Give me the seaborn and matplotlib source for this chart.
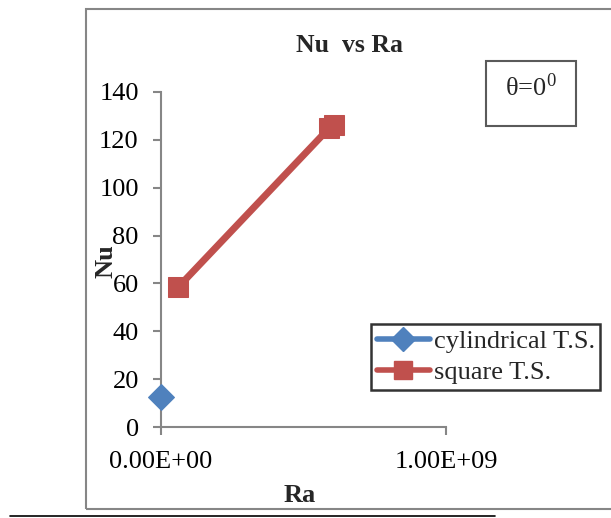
import matplotlib
matplotlib.use("Agg")
import matplotlib.pyplot as plt
import seaborn as sns
import pandas as pd
from matplotlib.patches import Rectangle
from matplotlib.lines import Line2D

# Данные
cyl_ra = [0.0]
cyl_nu = [12.5]
sq_ra = [6.0e7, 5.9e8, 6.07e8]
sq_nu = [58.4, 124.9, 126.3]
y_ticks = [0, 20, 40, 60, 80, 100, 120, 140]
x_ticks = [0.0, 1.0e9]
x_tick_labels = ["0.00E+00", "1.00E+09"]

sns.set_theme(style="white")
plt.rcParams['font.family'] = ['Liberation Serif', 'DejaVu Serif']
plt.rcParams['mathtext.fontset'] = 'stix'

blue = '#4F81BD'
red = '#C0504D'
grey = '#868686'

fig = plt.figure(figsize=(6.11, 5.18), dpi=100)
ax = fig.add_axes([161 / 611, 1 - 427 / 518, 285 / 611, 335 / 518])

df_cyl = pd.DataFrame({"Ra": cyl_ra, "Nu": cyl_nu})
df_sq = pd.DataFrame({"Ra": sq_ra, "Nu": sq_nu})

sns.lineplot(data=df_cyl, x="Ra", y="Nu", ax=ax, color=blue, linewidth=4,
             marker='D', markersize=13, markeredgecolor=blue, sort=False,
             clip_on=False, zorder=5)
sns.lineplot(data=df_sq, x="Ra", y="Nu", ax=ax, color=red, linewidth=5,
             marker='s', markersize=15, markeredgecolor=red, sort=False,
             clip_on=False, zorder=4)

ax.set_xlim(0, 1.0e9)
ax.set_ylim(0, 140)
ax.set_yticks(y_ticks)
ax.set_xticks(x_ticks)
ax.set_xticklabels(x_tick_labels)
ax.tick_params(axis='both', labelsize=19, colors='black', length=6,
               width=1.5, direction='out', left=True, bottom=True)
ax.tick_params(axis='both', color=grey)
ax.tick_params(axis='x', pad=11)
ax.tick_params(axis='y', pad=10)
for side in ['top', 'right']:
    ax.spines[side].set_visible(False)
for side in ['left', 'bottom']:
    ax.spines[side].set_color(grey)
    ax.spines[side].set_linewidth(1.5)
ax.set_xlabel("")
ax.set_ylabel("")

# Заголовок и подписи осей
fig.text(349 / 611, 1 - 46 / 518, "Nu  vs Ra", ha='center', va='center',
         fontsize=18.5, fontweight='bold')
fig.text(300 / 611, 1 - 496 / 518, "Ra", ha='center', va='center',
         fontsize=19, fontweight='bold')
fig.text(106 / 611, 1 - 261 / 518, "Nu", ha='center', va='center',
         fontsize=19, fontweight='bold', rotation=90)

# Рамка с углом
fig.patches.append(Rectangle((486 / 611, 1 - 126 / 518), 90 / 611, 65 / 518,
                             transform=fig.transFigure, fill=False,
                             edgecolor='#5a5a5a', linewidth=1.5))
fig.text(531 / 611, 1 - 87 / 518, r"θ=0$^{\mathregular{0}}$", ha='center',
         va='center', fontsize=19)

# Легенда
handles = [
    Line2D([], [], color=blue, linewidth=4, marker='D', markersize=12,
           markeredgecolor=blue),
    Line2D([], [], color=red, linewidth=4, marker='s', markersize=13,
           markeredgecolor=red),
]
leg = fig.legend(handles, ["cylindrical T.S.", "square T.S."],
                 loc='lower left', bbox_to_anchor=(371 / 611, 1 - 390 / 518),
                 fontsize=19, frameon=True, fancybox=False,
                 handlelength=2.0, handletextpad=0.15, borderpad=0.22,
                 labelspacing=0.3, borderaxespad=0)
leg.get_frame().set_edgecolor('black')
leg.get_frame().set_linewidth(1.8)

# Внешняя рамка диаграммы
fig.patches.append(Rectangle((86 / 611, 1 - 509 / 518), 600 / 611, 500 / 518,
                             transform=fig.transFigure, fill=False,
                             edgecolor=grey, linewidth=1.5))
fig.lines.append(Line2D([10 / 611, 495 / 611], [1 - 516 / 518, 1 - 516 / 518],
                        transform=fig.transFigure, color='black',
                        linewidth=1.2))

plt.savefig("out.png", dpi=100)
